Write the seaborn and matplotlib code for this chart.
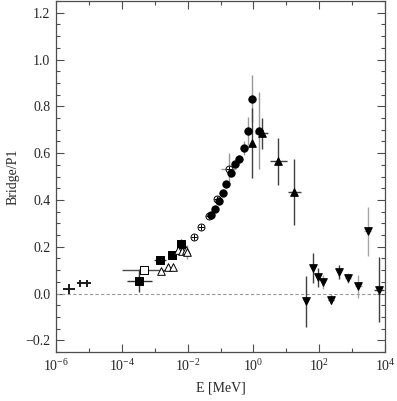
#!/usr/bin/env python3

import numpy as np
import seaborn as sns
import matplotlib.pyplot as plt
from matplotlib.ticker import FixedLocator, MultipleLocator, NullFormatter, LogFormatterSciNotation, FuncFormatter

# Data (E in MeV, ratio Bridge/P1), dex = half-width of x error in decades
cross_E = [2.5e-6, 5.4e-6, 8.6e-6]
cross_y = [0.02, 0.045, 0.045]
cross_dex = [0.19, 0.09, 0.12]
cross_yerr = [0.02, 0.015, 0.015]

sq_E = [3.4e-4, 1.48e-3, 3.3e-3, 6.3e-3]
sq_y = [0.055, 0.145, 0.166, 0.212]
sq_dex = [0.38, 0.18, 0.10, 0.08]
sq_yerr = [0.05, 0.01, 0.01, 0.02]

osq_E = [4.8e-4]
osq_y = [0.102]
osq_dex = [0.68]
osq_yerr = [0.0]

otri_E = [1.5e-3, 2.6e-3, 3.7e-3, 5.2e-3, 6.6e-3, 8.7e-3, 9.8e-3]
otri_y = [0.095, 0.114, 0.114, 0.185, 0.183, 0.188, 0.176]
otri_dex = [0.0, 0.0, 0.0, 0.0, 0.0, 0.0, 0.0]
otri_yerr = [0.0, 0.0, 0.0, 0.0, 0.0, 0.0, 0.03]

oplus_E = [0.0158, 0.025, 0.0447, 0.079, 0.178]
oplus_y = [0.240, 0.286, 0.333, 0.404, 0.534]
oplus_dex = [0.0, 0.0, 0.12, 0.0, 0.23]
oplus_yerr = [0.0, 0.0, 0.0, 0.0, 0.065]

circ_E = [0.050, 0.068, 0.089, 0.115, 0.148, 0.204, 0.275, 0.355, 0.507, 0.70, 0.925, 1.48]
circ_y = [0.334, 0.362, 0.397, 0.430, 0.466, 0.516, 0.554, 0.577, 0.620, 0.693, 0.832, 0.696]
circ_dex = [0.0] * 12
circ_yerr = [0.0, 0.0, 0.0, 0.0, 0.0, 0.0, 0.0, 0.015, 0.03, 0.06, 0.10, 0.165]

up_E = [0.89, 1.78, 5.7, 17.4]
up_y = [0.644, 0.684, 0.565, 0.433]
up_dex = [0.0, 0.2, 0.26, 0.2]
up_yerr = [0.15, 0.067, 0.10, 0.14]

down_E = [40, 63, 90, 129, 224, 407, 741, 1550, 2950, 6600]
down_y = [-0.033, 0.109, 0.069, 0.048, -0.026, 0.091, 0.067, 0.031, 0.266, 0.017]
down_dex = [0.05, 0.0, 0.0, 0.0, 0.1, 0.0, 0.1, 0.1, 0.1, 0.15]
down_yerr = [0.11, 0.063, 0.04, 0.03, 0.02, 0.03, 0.02, 0.05, 0.105, 0.14]
down_gray = [False, False, False, True, False, False, True, True, True, False]

sns.set_style('ticks')
plt.rcParams['font.family'] = ['Liberation Serif', 'DejaVu Serif']
plt.rcParams['mathtext.fontset'] = 'stix'
plt.rcParams['font.size'] = 10

fig = plt.figure(figsize=(3.97, 4.01), dpi=100)
ax = fig.add_axes([0.141, 0.122, 0.829, 0.8755])

ax.axhline(0, color='0.6', lw=0.8, ls=(0, (3, 2)), zorder=1)


def errs(E, y, dex, yerr, ecol='black', lw=1.0):
    E = np.array(E)
    dex = np.array(dex)
    lo = E - E / 10 ** dex
    hi = E * 10 ** dex - E
    ax.errorbar(E, y, xerr=[lo, hi], yerr=yerr, fmt='none', ecolor=ecol,
                elinewidth=lw, capsize=0, zorder=2)


def marks(E, y, marker, face, size=5):
    sns.scatterplot(x=E, y=y, marker=marker, s=size ** 2, color=face,
                    edgecolor='black', linewidth=0.7, ax=ax, zorder=3, legend=False)


errs(cross_E, cross_y, cross_dex, cross_yerr, '0.1', 1.4)

errs(sq_E, sq_y, sq_dex, sq_yerr, '0.2')
marks(sq_E, sq_y, 's', 'black', 5.5)

errs(osq_E, osq_y, osq_dex, osq_yerr, '0.3')
marks(osq_E, osq_y, 's', 'white', 5.5)

errs(otri_E, otri_y, otri_dex, otri_yerr, '0.6')
marks(otri_E, otri_y, '^', 'white', 5.5)

errs(oplus_E, oplus_y, oplus_dex, oplus_yerr, '0.6')
marks(oplus_E, oplus_y, 'o', 'white', 5)
sns.scatterplot(x=oplus_E, y=oplus_y, marker='+', s=25, color='black',
                linewidth=0.7, ax=ax, zorder=4, legend=False)

errs(circ_E, circ_y, circ_dex, circ_yerr, '0.6')
marks(circ_E, circ_y, 'o', 'black', 5.3)

errs(up_E, up_y, up_dex, up_yerr, '0.25')
marks(up_E, up_y, '^', 'black', 5.5)

for E, y, d, ye, g in zip(down_E, down_y, down_dex, down_yerr, down_gray):
    errs([E], [y], [d], [ye], '0.65' if g else '0.25')
marks(down_E, down_y, 'v', 'black', 5.5)

ax.set_xscale('log')
ax.set_xlim(1e-6, 1e4)
ax.set_ylim(-0.25, 1.25)

ax.xaxis.set_major_locator(FixedLocator(10.0 ** np.arange(-6, 5, 2)))
ax.xaxis.set_minor_locator(FixedLocator(10.0 ** np.arange(-5, 4, 2)))
ax.xaxis.set_major_formatter(LogFormatterSciNotation())
ax.xaxis.set_minor_formatter(NullFormatter())
ax.yaxis.set_major_locator(MultipleLocator(0.2))
ax.yaxis.set_minor_locator(MultipleLocator(0.05))
ax.yaxis.set_major_formatter(FuncFormatter(lambda v, p: ('%.1f' % v).replace('-', '\u2212')))

ax.tick_params(which='both', direction='in', top=True, right=True, color='0.3', labelsize=10)
ax.tick_params(which='major', length=6, width=0.8, pad=4)
ax.tick_params(which='minor', length=3, width=0.8)
for s in ax.spines.values():
    s.set_color('0.3')
    s.set_linewidth(0.9)

ax.set_xlabel('E [MeV]', fontsize=10, labelpad=6)
ax.set_ylabel('Bridge/P1', fontsize=10, labelpad=4)

plt.savefig('out.png', dpi=100)
